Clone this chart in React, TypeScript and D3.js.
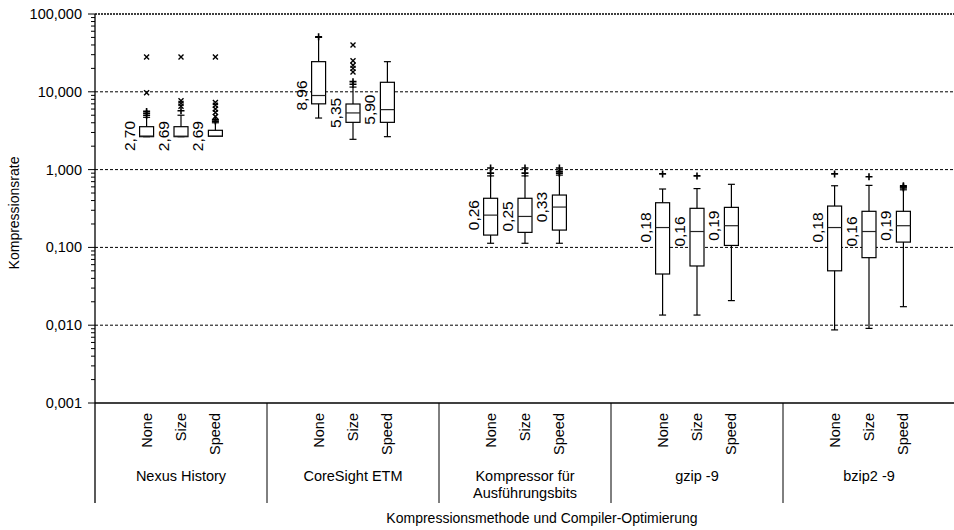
import React, { useEffect, useRef } from 'react';
import * as d3 from 'd3';

const width = 954;
const height = 530;
const margin = { left: 95, top: 14, right: 955, plotBottom: 403, catBottom: 503 };
const FONT = '"Liberation Sans", Arial, sans-serif';

const GROUPS = ['Nexus History', 'CoreSight ETM', 'Kompressor für\nAusführungsbits', 'gzip -9', 'bzip2 -9'];
const OPTIMIZATIONS = ['None', 'Size', 'Speed'];
const Y_TICKS = [0.001, 0.01, 0.1, 1, 10, 100];

// one entry per group x optimization (None, Size, Speed)
const LOW_WHISKER = [2.65, 2.65, 2.68, 4.6, 2.45, 2.65, 0.113, 0.113, 0.113, 0.0135, 0.0135, 0.0207, 0.0087, 0.0091, 0.0173];
const Q1 = [2.65, 2.65, 2.68, 7.0, 4.05, 4.05, 0.144, 0.156, 0.167, 0.0455, 0.0577, 0.106, 0.05, 0.0738, 0.117];
const MEDIAN = [2.70, 2.69, 2.69, 8.96, 5.35, 5.90, 0.26, 0.25, 0.33, 0.18, 0.16, 0.19, 0.18, 0.16, 0.19];
const Q3 = [3.56, 3.56, 3.2, 24.4, 6.97, 13.25, 0.428, 0.428, 0.471, 0.375, 0.318, 0.327, 0.34, 0.291, 0.291];
const HIGH_WHISKER = [4.7, 5.0, 4.0, 50, 11.5, 24.4, 0.83, 0.83, 0.85, 0.563, 0.57, 0.647, 0.62, 0.627, 0.55];
const MILD_OUTLIERS = [
  [5.0, 5.3, 5.6], [5.7], [4.2, 4.4],
  [51], [12.5, 13.5], [],
  [0.9, 1.05], [0.9, 1.05], [0.9, 0.95, 1.05],
  [0.88], [0.83], [],
  [0.88], [0.81], [0.58, 0.6, 0.62],
];
const EXTREME_OUTLIERS = [
  [9.7, 28], [6.5, 7.1, 7.7, 28], [4.8, 5.4, 6.0, 6.7, 7.3, 28],
  [], [18, 20, 22, 25, 40], [],
  [], [], [],
  [], [], [],
  [], [], [],
];

const locale = d3.formatLocale({ decimal: ',', thousands: '.', grouping: [3], currency: ['', '€'] });
const fmtTick = locale.format('.3f');
const fmtMedian = locale.format('.2f');

export default function App() {
  const ref = useRef<SVGSVGElement>(null);

  useEffect(() => {
    const svg = d3.select(ref.current);
    svg.selectAll('*').remove();

    const y = d3.scaleLog().domain([0.001, 100]).range([margin.plotBottom, margin.top]);
    const xGroup = d3.scaleBand().domain(GROUPS).range([margin.left, margin.right]).padding(0);
    const bw = xGroup.bandwidth();
    const xOpt = d3.scalePoint().domain(OPTIMIZATIONS).range([bw * 0.3, bw * 0.7]);

    const boxes = GROUPS.flatMap((g, gi) => OPTIMIZATIONS.map((o, oi) => {
      const i = gi * OPTIMIZATIONS.length + oi;
      return {
        group: g, opt: o, cx: (xGroup(g) as number) + (xOpt(o) as number),
        lo: LOW_WHISKER[i], q1: Q1[i], med: MEDIAN[i], q3: Q3[i], hi: HIGH_WHISKER[i],
        mild: MILD_OUTLIERS[i], extreme: EXTREME_OUTLIERS[i],
      };
    }));

    // grid lines
    svg.append('g').selectAll('line')
      .data(Y_TICKS.slice(1))
      .enter().append('line')
      .attr('x1', margin.left).attr('x2', width)
      .attr('y1', d => y(d)).attr('y2', d => y(d))
      .attr('stroke', '#000')
      .attr('stroke-width', d => d === 100 ? 1.5 : 1)
      .attr('stroke-dasharray', d => d === 100 ? '2,1' : '3,2');

    // y axis
    const yAxis = svg.append('g');
    yAxis.append('line')
      .attr('x1', margin.left).attr('x2', margin.left)
      .attr('y1', margin.top).attr('y2', margin.catBottom)
      .attr('stroke', '#000').attr('stroke-width', 1.3);
    const minor: number[] = [];
    Y_TICKS.slice(0, -1).forEach(t => { for (let k = 2; k <= 9; k++) minor.push(t * k); });
    yAxis.selectAll('line.minor').data(minor).enter().append('line')
      .attr('class', 'minor')
      .attr('x1', margin.left - 4).attr('x2', margin.left)
      .attr('y1', d => y(d)).attr('y2', d => y(d))
      .attr('stroke', '#000');
    yAxis.selectAll('line.major').data(Y_TICKS).enter().append('line')
      .attr('class', 'major')
      .attr('x1', margin.left - 7).attr('x2', margin.left)
      .attr('y1', d => y(d)).attr('y2', d => y(d))
      .attr('stroke', '#000');
    yAxis.selectAll('text').data(Y_TICKS).enter().append('text')
      .attr('x', 82).attr('y', d => y(d)).attr('dy', '0.35em')
      .attr('text-anchor', 'end')
      .attr('font-family', FONT).attr('font-size', 14.5)
      .text(d => fmtTick(d));
    svg.append('text')
      .attr('transform', `translate(19, 213) rotate(-90)`)
      .attr('text-anchor', 'middle')
      .attr('font-family', FONT).attr('font-size', 14)
      .text('Kompressionsrate');

    // category axis
    const cat = svg.append('g');
    cat.append('line')
      .attr('x1', margin.left).attr('x2', width)
      .attr('y1', margin.plotBottom).attr('y2', margin.plotBottom)
      .attr('stroke', '#000').attr('stroke-width', 1.3);
    cat.selectAll('line.sep').data(GROUPS.slice(1)).enter().append('line')
      .attr('class', 'sep')
      .attr('x1', d => xGroup(d) as number).attr('x2', d => xGroup(d) as number)
      .attr('y1', margin.plotBottom).attr('y2', margin.catBottom)
      .attr('stroke', '#000');
    cat.selectAll('text.opt').data(boxes).enter().append('text')
      .attr('class', 'opt')
      .attr('transform', d => `translate(${d.cx}, 413) rotate(-90)`)
      .attr('dy', '0.35em')
      .attr('text-anchor', 'end')
      .attr('font-family', FONT).attr('font-size', 14.5)
      .text(d => d.opt);
    const gl = cat.selectAll('text.grp').data(GROUPS).enter().append('text')
      .attr('class', 'grp')
      .attr('text-anchor', 'middle')
      .attr('font-family', FONT).attr('font-size', 14.5);
    gl.selectAll('tspan').data(d => d.split('\n').map(line => ({ line, g: d })))
      .enter().append('tspan')
      .attr('x', d => (xGroup(d.g) as number) + bw / 2)
      .attr('y', (d, i) => 481 + i * 17)
      .text(d => d.line);
    svg.append('text')
      .attr('x', 542).attr('y', 523)
      .attr('text-anchor', 'middle')
      .attr('font-family', FONT).attr('font-size', 14)
      .text('Kompressionsmethode und Compiler-Optimierung');

    // boxes
    const boxW = 14;
    const capW = 7;
    const bg = svg.append('g').selectAll('g.box').data(boxes).enter().append('g').attr('class', 'box');
    bg.append('line')
      .attr('x1', d => d.cx).attr('x2', d => d.cx)
      .attr('y1', d => y(d.lo)).attr('y2', d => y(d.hi))
      .attr('stroke', '#000').attr('stroke-width', 1.2);
    bg.selectAll('line.cap').data(d => [d.lo, d.hi].map(v => ({ v, cx: d.cx }))).enter().append('line')
      .attr('class', 'cap')
      .attr('x1', d => d.cx - capW / 2).attr('x2', d => d.cx + capW / 2)
      .attr('y1', d => y(d.v)).attr('y2', d => y(d.v))
      .attr('stroke', '#000').attr('stroke-width', 1.2);
    bg.append('rect')
      .attr('x', d => d.cx - boxW / 2).attr('width', boxW)
      .attr('y', d => y(d.q3)).attr('height', d => Math.max(1, y(d.q1) - y(d.q3)))
      .attr('fill', '#fff').attr('stroke', '#000').attr('stroke-width', 1.2);
    bg.append('line')
      .attr('x1', d => d.cx - boxW / 2).attr('x2', d => d.cx + boxW / 2)
      .attr('y1', d => y(d.med)).attr('y2', d => y(d.med))
      .attr('stroke', '#222').attr('stroke-width', 1.2);
    bg.selectAll('path.mild').data(d => d.mild.map(v => ({ v, cx: d.cx }))).enter().append('path')
      .attr('class', 'mild')
      .attr('transform', d => `translate(${d.cx}, ${y(d.v)})`)
      .attr('d', 'M-3.5,0H3.5M0,-3.5V3.5')
      .attr('stroke', '#000').attr('stroke-width', 1.6);
    bg.selectAll('path.extreme').data(d => d.extreme.map(v => ({ v, cx: d.cx }))).enter().append('path')
      .attr('class', 'extreme')
      .attr('transform', d => `translate(${d.cx}, ${y(d.v)})`)
      .attr('d', 'M-2.5,-2.5L2.5,2.5M-2.5,2.5L2.5,-2.5')
      .attr('stroke', '#000').attr('stroke-width', 1.4);
    bg.append('text')
      .attr('transform', d => `translate(${d.cx - boxW / 2 - 5}, ${y(d.med)}) rotate(-90)`)
      .attr('text-anchor', 'middle')
      .attr('font-family', FONT).attr('font-size', 15.5)
      .text(d => fmtMedian(d.med));
  }, []);

  return (
    <svg ref={ref} width={width} height={height}
      style={{ position: 'absolute', left: 0, top: 0, background: '#fff' }} />
  );
}
